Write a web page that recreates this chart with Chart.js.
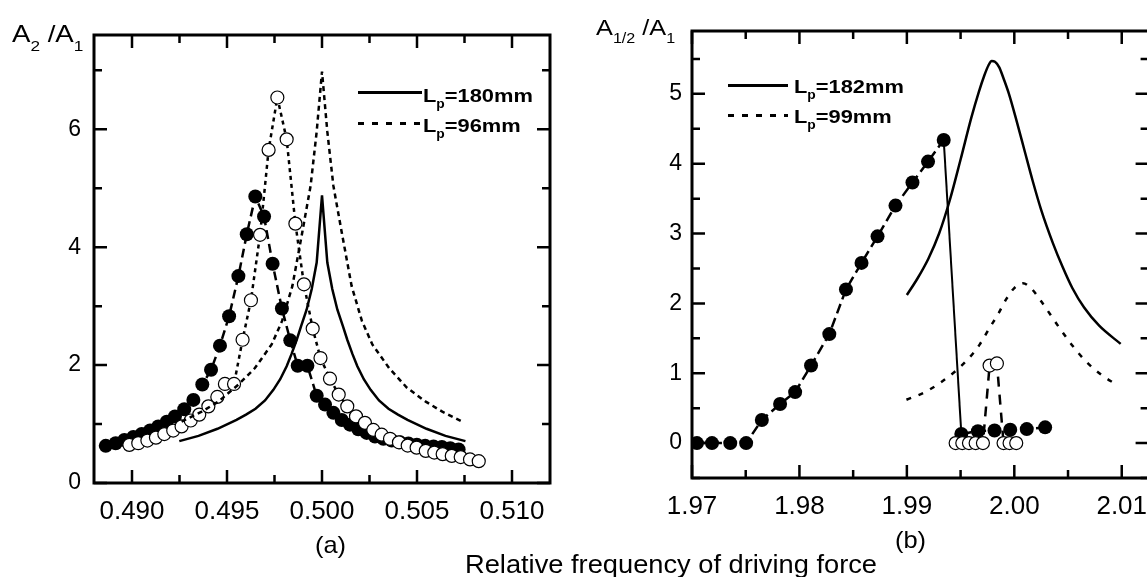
<!DOCTYPE html>
<html lang="en">
<head>
<meta charset="UTF-8" />
<title>Relative frequency of driving force</title>
<script src="https://cdn.jsdelivr.net/npm/chart.js"></script>
<style>
  * { box-sizing: border-box; }
  body {
    margin: 0;
    width: 1147px;
    height: 577px;
    overflow: hidden;
    position: relative;
    background: #fff;
    font-family: 'Liberation Sans', Arial, sans-serif;
    color: #000;
  }
  .panel { position: absolute; top: 0; }
  .txt {
    position: absolute;
    line-height: 1;
    white-space: nowrap;
    transform-origin: left top;
    transform: scaleX(1.15);
  }
  .sb { position: relative; }
  .lg { font-weight: bold; font-size: 19px; }
  .lg .sb { font-size: 12px; top: 6px; }
  .solid { position: absolute; height: 3px; background: #000; }
  .dots {
    position: absolute; height: 3px;
    background: repeating-linear-gradient(90deg, #000 0 6px, transparent 6px 14px);
  }
</style>
</head>
<body>
  <div class="panel" style="left:0;width:580px;height:577px"><canvas id="chartA" width="580" height="577"></canvas></div>
  <div class="panel" style="left:600px;width:580px;height:577px"><canvas id="chartB" width="580" height="577"></canvas></div>

  <!-- axis titles -->
  <div class="txt" style="left:12px;top:22px;font-size:24px">A<span class="sb" style="font-size:15px;top:9px">2</span> /A<span class="sb" style="font-size:15px;top:9px">1</span></div>
  <div class="txt" style="left:596px;top:17px;font-size:22px">A<span class="sb" style="font-size:14px;top:8px">1/2</span> /A<span class="sb" style="font-size:14px;top:8px">1</span></div>

  <!-- legends -->
  <div class="solid" style="left:358px;top:91px;width:64px"></div>
  <div class="txt lg" style="left:423px;top:86px">L<span class="sb">p</span>=180mm</div>
  <div class="dots" style="left:358px;top:122px;width:64px"></div>
  <div class="txt lg" style="left:423px;top:116px">L<span class="sb">p</span>=96mm</div>

  <div class="solid" style="left:728px;top:84px;width:60px"></div>
  <div class="txt lg" style="left:794px;top:77px">L<span class="sb">p</span>=182mm</div>
  <div class="dots" style="left:728px;top:114px;width:60px"></div>
  <div class="txt lg" style="left:794px;top:107px">L<span class="sb">p</span>=99mm</div>

  <!-- bottom captions -->
  <div class="txt" style="left:315px;top:533px;font-size:24px;transform:scaleX(1.06)">(a)</div>
  <div class="txt" style="left:895px;top:528px;font-size:24px;transform:scaleX(1.06)">(b)</div>
  <div class="txt" style="left:465px;top:552px;font-size:25px;transform:scaleX(1.09)">Relative frequency of driving force</div>

<script>
// ---- panel (a): A2/A1 around 0.5 ----
const fillXA = [0.48862, 0.48914, 0.48960, 0.49007, 0.49051, 0.49095, 0.49138, 0.49183, 0.49226, 0.49275,
  0.49323, 0.49370, 0.49416, 0.49463, 0.49511, 0.49560, 0.49604, 0.49649, 0.49695, 0.49740,
  0.49789, 0.49833, 0.49872, 0.49923, 0.49972, 0.50016, 0.50060, 0.50104, 0.50147, 0.50191,
  0.50235, 0.50279, 0.50323, 0.50367, 0.50411, 0.50455, 0.50499, 0.50543, 0.50587, 0.50631,
  0.50675, 0.50719];
const fillYA = [0.63, 0.675, 0.73, 0.78, 0.83, 0.89, 0.96, 1.04, 1.13, 1.25,
  1.41, 1.67, 1.92, 2.33, 2.83, 3.51, 4.22, 4.86, 4.52, 3.72,
  2.96, 2.42, 1.99, 1.99, 1.48, 1.33, 1.19, 1.07, 0.99, 0.91,
  0.85, 0.79, 0.75, 0.72, 0.69, 0.67, 0.65, 0.63, 0.62, 0.61,
  0.59, 0.57];

const openXA = [0.48986, 0.49033, 0.49081, 0.49126, 0.49170, 0.49217, 0.49261, 0.49309, 0.49354, 0.49402,
  0.49449, 0.49489, 0.49537, 0.49582, 0.49626, 0.49674, 0.49719, 0.49765, 0.49814, 0.49860,
  0.49905, 0.49951, 0.49992, 0.50042, 0.50088, 0.50133, 0.50179, 0.50226, 0.50270, 0.50314,
  0.50358, 0.50405, 0.50451, 0.50498, 0.50546, 0.50591, 0.50635, 0.50683, 0.50730, 0.50779,
  0.50825];
const openYA = [0.647, 0.675, 0.72, 0.77, 0.83, 0.89, 0.96, 1.06, 1.16, 1.30,
  1.46, 1.68, 1.68, 2.43, 3.10, 4.21, 5.65, 6.54, 5.83, 4.40,
  3.37, 2.62, 2.12, 1.77, 1.50, 1.30, 1.13, 1.02, 0.90, 0.82,
  0.75, 0.69, 0.635, 0.60, 0.545, 0.516, 0.49, 0.46, 0.44, 0.40,
  0.37];

// theory, Lp = 180mm (solid)
const solidXA = [0.49249, 0.4935, 0.4945, 0.4955, 0.4960, 0.4965, 0.4970, 0.49744, 0.4978, 0.49814,
  0.4984, 0.49867, 0.4989, 0.49919, 0.49946, 0.49972, 0.5000, 0.50028, 0.50054, 0.50081,
  0.5011, 0.50133, 0.5016, 0.50186, 0.5022, 0.50256, 0.5030, 0.5035, 0.5040, 0.5045,
  0.5055, 0.5065, 0.50755];
const solidYA = [0.71, 0.80, 0.92, 1.07, 1.16, 1.26, 1.40, 1.58, 1.76, 1.98,
  2.19, 2.43, 2.66, 2.94, 3.29, 3.74, 4.88, 3.74, 3.29, 2.94,
  2.66, 2.43, 2.19, 1.98, 1.76, 1.58, 1.40, 1.26, 1.16, 1.07,
  0.92, 0.80, 0.71];

// theory, Lp = 96mm (dotted)
const dotXA = [0.49261, 0.49367, 0.49454, 0.4956, 0.49647, 0.49735, 0.4979, 0.49844, 0.49896, 0.4994,
  0.49972, 0.5000, 0.50028, 0.5006, 0.50104, 0.50156, 0.5021, 0.50265, 0.50353, 0.50446,
  0.50546, 0.50633, 0.50739];
const dotYA = [1.04, 1.21, 1.38, 1.67, 1.95, 2.35, 2.75, 3.34, 4.25, 5.04,
  5.96, 6.98, 5.96, 5.04, 4.25, 3.34, 2.75, 2.35, 1.95, 1.62,
  1.38, 1.21, 1.04];

const xTicksA = [0.4900, 0.4925, 0.4950, 0.4975, 0.5000, 0.5025, 0.5050, 0.5075, 0.5100];
const xLabelsA = ['0.490', '', '0.495', '', '0.500', '', '0.505', '', '0.510'];
const yTicksA = [0, 1, 2, 3, 4, 5, 6, 7];
const yLabelsA = ['0', '', '2', '', '4', '', '6', ''];

// ---- panel (b): A1/2/A1 around 2.0 ----
const fillXB1 = [1.97046, 1.97186, 1.97356, 1.97504, 1.97650, 1.97820, 1.97960, 1.98108, 1.98278, 1.98433,
  1.98578, 1.98727, 1.98894, 1.99052, 1.99197, 1.99343];
const fillYB1 = [0, 0, 0, 0, 0.33, 0.56, 0.73, 1.11, 1.56, 2.20,
  2.58, 2.96, 3.40, 3.73, 4.03, 4.34];
const fillXB2 = [1.99507, 1.99661, 1.99816, 1.99962, 2.00116, 2.00287];
const fillYB2 = [0.13, 0.17, 0.18, 0.19, 0.20, 0.225];
const jumpXB = [1.99343, 1.99507];
const jumpYB = [4.34, 0.13];

const openXB = [1.99454, 1.99516, 1.99578, 1.99640, 1.99708, 1.99770, 1.99838, 1.99900, 1.99956, 2.00018];
const openYB = [0, 0, 0, 0, 0, 1.11, 1.14, 0, 0, 0];

// theory, Lp = 182mm (solid)
const solidXB = [1.9900, 1.9910, 1.9920, 1.9930, 1.9940, 1.9950, 1.9960, 1.9967, 1.9972, 1.9976,
  1.9979, 1.9982, 1.9986, 1.9990, 1.9995, 2.0002, 2.0010, 2.0017, 2.0025, 2.0036,
  2.0045, 2.0054, 2.0065, 2.0079, 2.0099];
const solidYB = [2.12, 2.36, 2.64, 3.00, 3.48, 4.06, 4.66, 5.03, 5.26, 5.41,
  5.47, 5.46, 5.38, 5.22, 5.00, 4.62, 4.16, 3.76, 3.34, 2.86,
  2.52, 2.22, 1.94, 1.68, 1.42];

// theory, Lp = 99mm (dotted)
const dotXB = [1.98996, 1.99182, 1.99429, 1.99568, 1.99677, 1.99770, 1.99847, 1.99925, 2.0000, 2.0008,
  2.0016, 2.0025, 2.0042, 2.00544, 2.00667, 2.00807, 2.00946];
const dotYB = [0.62, 0.74, 1.00, 1.20, 1.41, 1.65, 1.84, 2.06, 2.22, 2.29,
  2.21, 2.03, 1.65, 1.39, 1.17, 0.98, 0.84];

const xTicksB = [1.970, 1.975, 1.980, 1.985, 1.990, 1.995, 2.000, 2.005, 2.010];
const xLabelsB = ['1.97', '', '1.98', '', '1.99', '', '2.00', '', '2.01'];
const yTicksB = [-0.5, 0, 0.5, 1, 1.5, 2, 2.5, 3, 3.5, 4, 4.5, 5, 5.5];
const yLabelsB = ['', '0', '', '1', '', '2', '', '3', '', '4', '', '5', ''];

Chart.defaults.font.family = "'Liberation Sans', Arial, sans-serif";
Chart.defaults.color = '#000';

const pts = (xs, ys) => xs.map((x, i) => ({ x, y: ys[i] }));

// frame on all four sides with inward ticks (long = labelled, short = unlabelled)
const frameTicks = {
  id: 'frameTicks',
  afterDatasetsDraw(chart) {
    const { ctx, chartArea: a, scales: { x, y } } = chart;
    ctx.save();
    ctx.strokeStyle = '#000';
    ctx.lineWidth = 2.5;
    ctx.beginPath();
    x.ticks.forEach(t => {
      const p = x.getPixelForValue(t.value);
      const len = t.label ? 13 : 8;
      ctx.moveTo(p, a.bottom); ctx.lineTo(p, a.bottom - len);
      ctx.moveTo(p, a.top); ctx.lineTo(p, a.top + len);
    });
    y.ticks.forEach(t => {
      const p = y.getPixelForValue(t.value);
      const len = t.label ? 13 : 8;
      ctx.moveTo(a.left, p); ctx.lineTo(a.left + len, p);
      ctx.moveTo(a.right, p); ctx.lineTo(a.right - len, p);
    });
    ctx.stroke();
    ctx.lineWidth = 3;
    ctx.strokeRect(a.left, a.top, a.right - a.left, a.bottom - a.top);
    ctx.restore();
  }
};

function makeChart(id, datasets, box, xs, ys) {
  new Chart(document.getElementById(id), {
    type: 'scatter',
    data: { datasets },
    options: {
      animation: false,
      responsive: false,
      events: [],
      layout: { padding: { top: box.top, right: 580 - box.right, left: 0, bottom: 0 } },
      plugins: { legend: { display: false }, tooltip: { enabled: false } },
      scales: {
        x: {
          type: 'linear', min: xs.min, max: xs.max,
          afterBuildTicks: s => { s.ticks = xs.ticks.map(v => ({ value: v })); },
          afterFit: s => { s.height = 577 - box.bottom; },
          grid: { display: false, drawTicks: false },
          border: { display: false },
          ticks: {
            autoSkip: false, maxRotation: 0, padding: 13,
            font: { size: 26 },
            callback: (v, i) => xs.labels[i]
          }
        },
        y: {
          min: ys.min, max: ys.max,
          afterBuildTicks: s => { s.ticks = ys.ticks.map(v => ({ value: v })); },
          afterFit: s => { s.width = box.left; },
          grid: { display: false, drawTicks: false },
          border: { display: false },
          ticks: {
            autoSkip: false, padding: ys.pad,
            font: { size: 23 },
            callback: (v, i) => ys.labels[i]
          }
        }
      }
    },
    plugins: [frameTicks]
  });
}

const line = (xs, ys, dash, extra) => Object.assign({
  data: pts(xs, ys), showLine: true, borderColor: '#000', borderWidth: 2.5,
  borderDash: dash, pointRadius: 0, order: 0
}, extra || {});

const filled = (xs, ys, dash) => ({
  data: pts(xs, ys), showLine: true, borderColor: '#000', borderWidth: 2.5, borderDash: dash,
  pointRadius: 7, pointBackgroundColor: '#000', pointBorderColor: '#000', pointBorderWidth: 0, order: 2
});

const open = (xs, ys, dash) => ({
  data: pts(xs, ys), showLine: true, borderColor: '#000', borderWidth: 2.5, borderDash: dash,
  pointRadius: 6.5, pointBackgroundColor: '#fff', pointBorderColor: '#000', pointBorderWidth: 1.2, order: 1
});

makeChart('chartA', [
  line(solidXA, solidYA, []),
  line(dotXA, dotYA, [5, 4]),
  open(openXA, openYA, [4, 4]),
  filled(fillXA, fillYA, [9, 5])
], { left: 94, right: 550, top: 35, bottom: 483 },
  { min: 0.488, max: 0.512, ticks: xTicksA, labels: xLabelsA },
  { min: 0, max: 7.6, ticks: yTicksA, labels: yLabelsA, pad: 13 });

makeChart('chartB', [
  line(solidXB, solidYB, [], { cubicInterpolationMode: 'monotone' }),
  line(dotXB, dotYB, [5, 8], { cubicInterpolationMode: 'monotone' }),
  line(jumpXB, jumpYB, [], { borderWidth: 2 }),
  open(openXB, openYB, [10, 8]),
  filled(fillXB1, fillYB1, [10, 5]),
  filled(fillXB2, fillYB2, [10, 5])
], { left: 92, right: 548.6, top: 31, bottom: 478 },
  { min: 1.97, max: 2.0125, ticks: xTicksB, labels: xLabelsB },
  { min: -0.5, max: 5.9, ticks: yTicksB, labels: yLabelsB, pad: 10 });
</script>
</body>
</html>
